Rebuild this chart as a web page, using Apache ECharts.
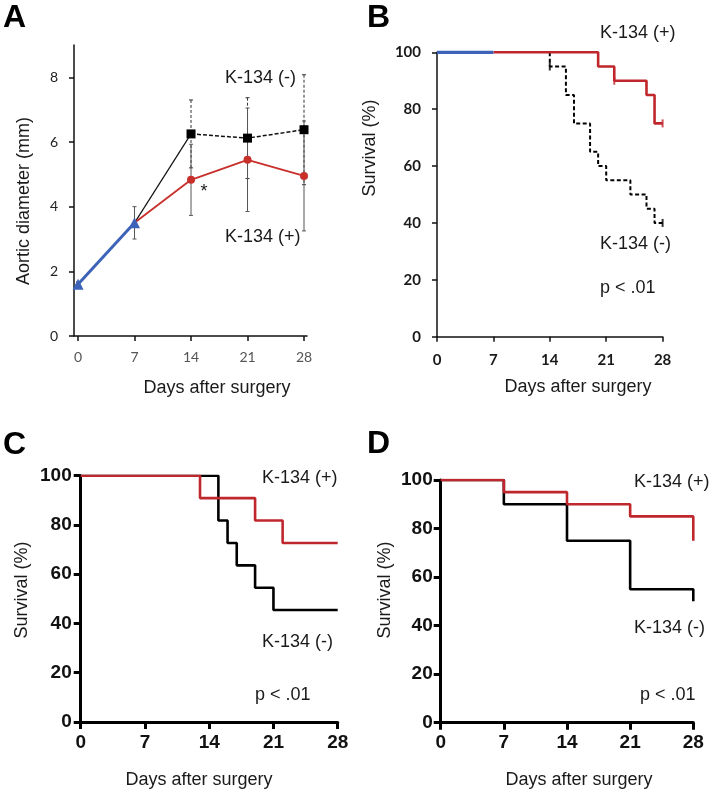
<!DOCTYPE html>
<html>
<head>
<meta charset="utf-8">
<script src="https://cdn.jsdelivr.net/npm/echarts@6/dist/echarts.min.js"></script>
<style>
html,body{margin:0;padding:0;background:#fff;}
#c{width:711px;height:791px;}
</style>
</head>
<body>
<div id="c"></div>
<script>
// ---------- Panel A: aortic diameter ----------
const dayTicks = [0, 7, 14, 21, 28];
const diamTicks = [0, 2, 4, 6, 8];
const baseDays = [0, 7];
const baseMean = [1.6, 3.5];
const baseErr = [0.08, 0.5];
const negDays = [7, 14, 21, 28];
const negMean = [3.5, 6.25, 6.12, 6.38];
const negErr = [0, 1.05, 1.25, 1.7];
const posDays = [7, 14, 21, 28];
const posMean = [3.5, 4.83, 5.45, 4.95];
const posErr = [0, 1.1, 1.6, 1.7];

// ---------- Panel B: survival (Kaplan-Meier) ----------
const bBaseTimes = [0, 7];
const bBaseSurv = [100, 100];
const bPosTimes = [7, 20, 22, 26, 27, 28];
const bPosSurv = [100, 95, 90, 85, 75, 75];
const bNegTimes = [14, 14, 16, 17, 19, 20, 21, 24, 26, 27, 28];
const bNegSurv = [100, 95, 85, 75, 65, 60, 55, 50, 45, 40, 40];
const bPosCensorT = [22, 28];
const bPosCensorS = [90, 75];
const bNegCensorT = [14, 28];
const bNegCensorS = [95, 40];

// ---------- Panel C ----------
const cPosTimes = [0, 13, 19, 22, 28];
const cPosSurv = [100, 90.9, 81.8, 72.7, 72.7];
const cNegTimes = [0, 15, 16, 17, 19, 21, 28];
const cNegSurv = [100, 81.8, 72.7, 63.6, 54.5, 45.5, 45.5];

// ---------- Panel D ----------
const dPosTimes = [0, 7, 14, 21, 28];
const dPosSurv = [100, 95, 90, 85, 75];
const dNegTimes = [0, 7, 14, 21, 28];
const dNegSurv = [100, 90, 75, 55, 50];

const survTicks = [0, 20, 40, 60, 80, 100];

const RED = '#c0272d';
const BLACK = '#111';
const BLUE = '#3d63b8';

const zip = (a, b) => a.map((v, i) => [v, b[i]]);
const errData = (d, m, e) => d.map((v, i) => [v, m[i] - e[i], m[i] + e[i]]).filter((r, i) => e[i] > 0);

function errSeries(data, color, dash) {
  return {
    type: 'custom', xAxisIndex: 0, yAxisIndex: 0, z: 1,
    data: data,
    encode: { x: 0, y: [1, 2] },
    renderItem: function (params, api) {
      const x = api.value(0), lo = api.value(1), hi = api.value(2);
      const pt = api.coord([x, hi]);
      const pb = api.coord([x, lo]);
      const st = { stroke: color, lineWidth: 1, lineDash: dash ? [3, 2] : null };
      return {
        type: 'group',
        children: [
          { type: 'line', shape: { x1: pt[0], y1: pt[1], x2: pb[0], y2: pb[1] }, style: st },
          { type: 'line', shape: { x1: pt[0] - 2, y1: pt[1], x2: pt[0] + 2, y2: pt[1] }, style: { stroke: color, lineWidth: 1 } },
          { type: 'line', shape: { x1: pb[0] - 2, y1: pb[1], x2: pb[0] + 2, y2: pb[1] }, style: { stroke: color, lineWidth: 1 } }
        ]
      };
    }
  };
}

function txt(text, x, y, opt) {
  opt = opt || {};
  return {
    type: 'text', x: x, y: y, rotation: opt.rot || 0, z: 100,
    style: {
      text: text,
      font: opt.font || '18px "Liberation Sans", Arial, sans-serif',
      fill: opt.fill || '#1a1a1a',
      textAlign: opt.align || 'left',
      textVerticalAlign: 'middle'
    }
  };
}

const smallLabA = { fontFamily: 'Lato, "Liberation Sans", sans-serif', fontSize: 14 };
const boldLab = { fontFamily: '"Liberation Sans", Arial, sans-serif', fontSize: 19, fontWeight: 'bold', color: '#111' };

const chart = echarts.init(document.getElementById('c'), null, { renderer: 'canvas' });

const option = {
  backgroundColor: '#fff',
  animation: false,
  grid: [
    { left: 74, top: 45, width: 233, height: 291, outerBoundsMode: 'none' },
    { left: 437, top: 52.3, width: 225.6, height: 284.4, outerBoundsMode: 'none' },
    { left: 80.7, top: 475.7, width: 257, height: 246.3, outerBoundsMode: 'none' },
    { left: 440.7, top: 480, width: 252.6, height: 242.7, outerBoundsMode: 'none' }
  ],
  xAxis: [
    {
      gridIndex: 0, type: 'value', min: -0.5, max: 28.37,
      axisLine: { onZero: false, lineStyle: { color: '#111', width: 1.5 } },
      axisTick: { customValues: dayTicks, length: 5, lineStyle: { color: '#111', width: 1.5 } },
      axisLabel: Object.assign({ customValues: dayTicks, margin: 14, color: '#555' }, smallLabA),
      splitLine: { show: false }
    },
    {
      gridIndex: 1, type: 'value', min: 0, max: 28, interval: 7,
      axisLine: { onZero: false, lineStyle: { color: '#111', width: 1.5 } },
      axisTick: { length: 5, lineStyle: { color: '#111', width: 1.5 } },
      axisLabel: { margin: 16, color: '#1a1a1a', fontFamily: 'Lato, sans-serif', fontSize: 15, fontWeight: 'bold' },
      splitLine: { show: false }
    },
    {
      gridIndex: 2, type: 'value', min: 0, max: 28, interval: 7,
      axisLine: { onZero: false, lineStyle: { color: '#000', width: 3 } },
      axisTick: { length: 7, lineStyle: { color: '#000', width: 3 } },
      axisLabel: Object.assign({ margin: 11 }, boldLab),
      splitLine: { show: false }
    },
    {
      gridIndex: 3, type: 'value', min: 0, max: 28, interval: 7,
      axisLine: { onZero: false, lineStyle: { color: '#000', width: 3 } },
      axisTick: { length: 7, lineStyle: { color: '#000', width: 3 } },
      axisLabel: Object.assign({ margin: 11 }, boldLab),
      splitLine: { show: false }
    }
  ],
  yAxis: [
    {
      gridIndex: 0, type: 'value', min: 0, max: 9,
      axisLine: { show: true, onZero: false, lineStyle: { color: '#111', width: 1.5 } },
      axisTick: { show: true, customValues: diamTicks, length: 5, lineStyle: { color: '#111', width: 1.5 } },
      axisLabel: Object.assign({ customValues: diamTicks, margin: 16, color: '#222' }, smallLabA),
      splitLine: { show: false }
    },
    {
      gridIndex: 1, type: 'value', min: 0, max: 100, interval: 20,
      axisLine: { show: true, onZero: false, lineStyle: { color: '#111', width: 1.5 } },
      axisTick: { show: true, length: 5, lineStyle: { color: '#111', width: 1.5 } },
      axisLabel: { margin: 16, color: '#1a1a1a', fontFamily: 'Lato, sans-serif', fontSize: 15, fontWeight: 'bold' },
      splitLine: { show: false }
    },
    {
      gridIndex: 2, type: 'value', min: 0, max: 100, interval: 20,
      axisLine: { show: true, onZero: false, lineStyle: { color: '#000', width: 3 } },
      axisTick: { show: true, length: 7, lineStyle: { color: '#000', width: 3 } },
      axisLabel: Object.assign({ margin: 9 }, boldLab),
      splitLine: { show: false }
    },
    {
      gridIndex: 3, type: 'value', min: 0, max: 100, interval: 20,
      axisLine: { show: true, onZero: false, lineStyle: { color: '#000', width: 3 } },
      axisTick: { show: true, length: 7, lineStyle: { color: '#000', width: 3 } },
      axisLabel: Object.assign({ margin: 8 }, boldLab),
      splitLine: { show: false }
    }
  ],
  series: [
    // ---- Panel A ----
    errSeries(errData(negDays, negMean, negErr), '#333', true),
    errSeries(errData(posDays, posMean, posErr), '#555', false),
    errSeries(errData(baseDays, baseMean, baseErr), '#555', false),
    {
      type: 'line', xAxisIndex: 0, yAxisIndex: 0, z: 2, symbol: 'none',
      data: zip(negDays, negMean).slice(0, 2),
      lineStyle: { color: BLACK, width: 1.2 }
    },
    {
      type: 'line', xAxisIndex: 0, yAxisIndex: 0, z: 3,
      data: zip(negDays, negMean).slice(1),
      symbol: 'rect', symbolSize: 9,
      itemStyle: { color: '#000' },
      lineStyle: { color: BLACK, width: 1.5, type: [4, 2] }
    },
    {
      type: 'line', xAxisIndex: 0, yAxisIndex: 0, z: 4,
      data: zip(posDays, posMean).map((p, i) => i === 0 ? { value: p, symbol: 'none' } : p),
      symbol: 'circle', symbolSize: 8,
      itemStyle: { color: '#c8302c' },
      lineStyle: { color: '#c8302c', width: 1.8 }
    },
    {
      type: 'line', xAxisIndex: 0, yAxisIndex: 0, z: 5,
      data: zip(baseDays, baseMean),
      symbol: 'triangle', symbolSize: 11,
      itemStyle: { color: BLUE },
      lineStyle: { color: BLUE, width: 3 }
    },
    // ---- Panel B ----
    {
      type: 'line', xAxisIndex: 1, yAxisIndex: 1, z: 3, step: 'end', symbol: 'none',
      data: zip(bNegTimes, bNegSurv),
      lineStyle: { color: '#000', width: 2, type: [4, 2.5] }
    },
    {
      type: 'scatter', xAxisIndex: 1, yAxisIndex: 1, z: 3,
      data: zip(bNegCensorT, bNegCensorS), symbol: 'rect', symbolSize: [2, 8],
      itemStyle: { color: '#000' }
    },
    {
      type: 'line', xAxisIndex: 1, yAxisIndex: 1, z: 4, step: 'end', symbol: 'none',
      data: zip(bPosTimes, bPosSurv),
      lineStyle: { color: RED, width: 2.6 }
    },
    {
      type: 'scatter', xAxisIndex: 1, yAxisIndex: 1, z: 4,
      data: zip(bPosCensorT, bPosCensorS), symbol: 'rect', symbolSize: [2, 8],
      itemStyle: { color: RED }
    },
    {
      type: 'line', xAxisIndex: 1, yAxisIndex: 1, z: 5, symbol: 'none',
      data: zip(bBaseTimes, bBaseSurv),
      lineStyle: { color: BLUE, width: 3.5 }
    },
    // ---- Panel C ----
    {
      type: 'line', xAxisIndex: 2, yAxisIndex: 2, z: 3, step: 'end', symbol: 'none',
      data: zip(cNegTimes, cNegSurv),
      lineStyle: { color: '#000', width: 2.6 }
    },
    {
      type: 'line', xAxisIndex: 2, yAxisIndex: 2, z: 4, step: 'end', symbol: 'none',
      data: zip(cPosTimes, cPosSurv),
      lineStyle: { color: RED, width: 2.6 }
    },
    // ---- Panel D ----
    {
      type: 'line', xAxisIndex: 3, yAxisIndex: 3, z: 3, step: 'end', symbol: 'none',
      data: zip(dNegTimes, dNegSurv),
      lineStyle: { color: '#000', width: 2.6 }
    },
    {
      type: 'line', xAxisIndex: 3, yAxisIndex: 3, z: 4, step: 'end', symbol: 'none',
      data: zip(dPosTimes, dPosSurv),
      lineStyle: { color: RED, width: 2.6 }
    }
  ],
  graphic: [
    // panel letters
    txt('A', 3, 18, { font: 'bold 32px "Liberation Sans", Arial, sans-serif', fill: '#000' }),
    txt('B', 367, 18.5, { font: 'bold 32px "Liberation Sans", Arial, sans-serif', fill: '#000' }),
    txt('C', 3, 445, { font: 'bold 32px "Liberation Sans", Arial, sans-serif', fill: '#000' }),
    txt('D', 367, 444, { font: 'bold 32px "Liberation Sans", Arial, sans-serif', fill: '#000' }),
    // axis titles
    txt('Days after surgery', 217, 388, { align: 'center' }),
    txt('Aortic diameter (mm)', 24, 201, { align: 'center', rot: Math.PI / 2 }),
    txt('Days after surgery', 578, 387, { align: 'center' }),
    txt('Survival (%)', 370, 148, { align: 'center', rot: Math.PI / 2 }),
    txt('Days after surgery', 199, 780, { align: 'center' }),
    txt('Survival (%)', 22, 590, { align: 'center', rot: Math.PI / 2 }),
    txt('Days after surgery', 579, 780, { align: 'center' }),
    txt('Survival (%)', 385, 590, { align: 'center', rot: Math.PI / 2 }),
    // annotations A
    txt('K-134 (-)', 225, 78),
    txt('K-134 (+)', 225, 237),
    txt('*', 204, 192, { align: 'center' }),
    // annotations B
    txt('K-134 (+)', 600, 33),
    txt('K-134 (-)', 600, 244),
    txt('p < .01', 600, 288),
    // annotations C
    txt('K-134 (+)', 262, 478),
    txt('K-134 (-)', 262, 642),
    txt('p < .01', 255, 695),
    // annotations D
    txt('K-134 (+)', 634, 482),
    txt('K-134 (-)', 634, 628),
    txt('p < .01', 640, 695)
  ]
};

chart.setOption(option);
</script>
</body>
</html>
